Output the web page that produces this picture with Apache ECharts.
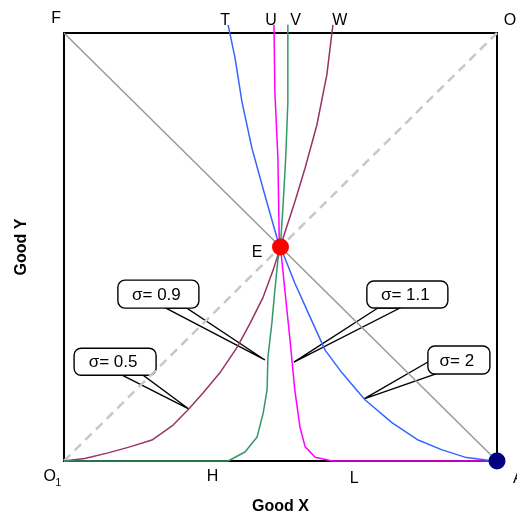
<!DOCTYPE html>
<html>
<head>
<meta charset="utf-8">
<script src="https://cdn.jsdelivr.net/npm/echarts@6/dist/echarts.min.js"></script>
<style>
  html, body { margin: 0; padding: 0; background: #fff; }
  #chart { width: 517px; height: 515px; }
</style>
</head>
<body>
<div id="chart"></div>
<script>
// box runs 0..100 on both goods, E sits in the middle
const pointE = [50, 50];
const pointA = [100, 0];
const diagonalFA = [[0, 100], [100, 0]];
const diagonalO1O = [[0, 0], [100, 100]];

// lower branches (towards O1 / A)
const sigma05Low = [[0, 0], [4.8, 0.6], [10.2, 1.9], [15.2, 3.3], [20.3, 4.9], [25.2, 8.4], [28.6, 11.9], [32.1, 15.9], [36.0, 20.6], [40.0, 26.6], [43.0, 32.2], [46.0, 38.3], [48.3, 44.6], [50, 50]];
const sigma09Low = [[0, 0], [37.9, 0], [41.8, 2.1], [44.6, 5.6], [46.0, 11.2], [46.9, 16.6], [47.1, 24.3], [48.0, 32.2], [48.7, 40.0], [49.4, 47.0], [50, 50]];
const sigma11Low = [[50, 50], [51.0, 40.0], [52.2, 28.3], [53.3, 16.6], [54.5, 7.9], [55.7, 3.3], [58.0, 0.9], [62.0, 0], [100, 0]];
const sigma2Low = [[50, 50], [53.3, 41.6], [56.4, 34.6], [60.3, 25.9], [64.2, 20.6], [69.5, 14.3], [75.8, 8.9], [81.8, 4.9], [87.3, 2.6], [92.6, 0.9], [97.9, 0.2], [100, 0]];

// upper branches (T, U, V, W)
const sigma2Up = [[50, 50], [49.2, 52.1], [46.4, 62.1], [43.4, 73.1], [41.1, 83.9], [39.5, 94.2], [37.9, 101.9]];
const sigma11Up = [[50, 50], [49.7, 52.1], [49.4, 70.8], [48.7, 86.2], [48.5, 101.9]];
const sigma09Up = [[50, 50], [50.1, 52.1], [50.6, 59.8], [51.2, 70.8], [51.7, 83.9], [51.7, 101.9]];
const sigma05Up = [[50, 50], [50.6, 52.1], [53.3, 60.5], [55.7, 68.5], [58.4, 78.5], [60.7, 90.2], [62.1, 101.9]];

const pointNames = ['F', 'T', 'U', 'V', 'W', 'O', 'O', '1', 'H', 'L', 'A', 'E'];
const pointSpots = [[-1.8, 103.3], [37.2, 102.9], [47.8, 102.9], [53.5, 102.9], [63.7, 102.9], [103.0, 103.0], [-3.3, -3.7], [-1.3, -5.3], [34.3, -3.7], [67.0, -4.0], [104.9, -4.0], [44.6, 48.6]];

const calloutTexts = ['σ= 0.5', 'σ= 0.9', 'σ= 1.1', 'σ= 2'];
const calloutTips = [[28.9, 12.1], [46.4, 23.6], [53.1, 23.1], [69.3, 14.5]];
const calloutBoxes = [[11.8, 23.2], [21.8, 39.0], [79.3, 38.9], [91.2, 23.6]];

const FONT = '"Liberation Sans", Arial, sans-serif';
const BLUE = '#3366ff', MAGENTA = '#ff00ff', GREEN = '#339966', MAROON = '#993366';

// box size + wedge base offsets (px, from box centre)
const calloutShape = [
  { w: 82, h: 27, base: [[7, 13.5], [28, 13.5]] },
  { w: 81, h: 28, base: [[7.5, 14], [28.5, 14]] },
  { w: 81, h: 27, base: [[-29.5, 13.5], [-7.5, 13.5]] },
  { w: 62, h: 28, base: [[-31, 2], [-23, 14]] }
];

function curve(data, color) {
  return {
    type: 'line', data: data, clip: false, symbol: 'none', z: 5,
    lineStyle: { color: color, width: 1.5 }
  };
}

let myChart = echarts.init(document.getElementById('chart'));
myChart.setOption({
  animation: false,
  grid: { left: 64, right: 20, top: 33, bottom: 54, outerBoundsMode: 'none', containLabel: false, show: true, borderColor: '#000', borderWidth: 2 },
  xAxis: {
    type: 'value', min: 0, max: 100,
    axisLine: { show: false }, axisTick: { show: false }, axisLabel: { show: false }, splitLine: { show: false },
    name: 'Good X', nameLocation: 'middle', nameGap: 38,
    nameTextStyle: { fontFamily: FONT, fontSize: 16, fontWeight: 'bold', color: '#000' }
  },
  yAxis: {
    type: 'value', min: 0, max: 100,
    axisLine: { show: false }, axisTick: { show: false }, axisLabel: { show: false }, splitLine: { show: false },
    name: 'Good Y', nameLocation: 'middle', nameGap: 34,
    nameTextStyle: { fontFamily: FONT, fontSize: 16, fontWeight: 'bold', color: '#000' }
  },
  series: [
    {
      type: 'custom', z: 2, clip: false,
      data: calloutTips.map((t, i) => [t[0], t[1], calloutBoxes[i][0], calloutBoxes[i][1]]),
      renderItem: function (params, api) {
        const i = params.dataIndex;
        const s = calloutShape[i];
        const tip = api.coord([api.value(0), api.value(1)]);
        const c = api.coord([api.value(2), api.value(3)]);
        return {
          type: 'group',
          children: [
            {
              type: 'polygon',
              shape: { points: [[c[0] + s.base[0][0], c[1] + s.base[0][1]], tip, [c[0] + s.base[1][0], c[1] + s.base[1][1]]] },
              style: { fill: '#fff', stroke: '#000', lineWidth: 1.4 }
            },
            {
              type: 'rect',
              shape: { x: c[0] - s.w / 2, y: c[1] - s.h / 2, width: s.w, height: s.h, r: 7 },
              style: { fill: '#fff', stroke: '#000', lineWidth: 1.4 }
            },
            {
              type: 'text',
              style: { text: calloutTexts[i], x: c[0] - 2, y: c[1] + 1, align: 'center', verticalAlign: 'middle', fontFamily: FONT, fontSize: 17, fill: '#000' }
            }
          ]
        };
      }
    },
    {
      type: 'line', data: diagonalFA, symbol: 'none', z: 3,
      lineStyle: { color: '#999', width: 1.5 }
    },
    {
      type: 'line', data: diagonalO1O, symbol: 'none', z: 3,
      lineStyle: { color: '#c8c8c8', width: 2.5, type: [9, 6] }
    },
    curve(sigma05Low, MAROON),
    curve(sigma09Low, GREEN),
    curve(sigma11Low, MAGENTA),
    curve(sigma2Low, BLUE),
    curve(sigma2Up, BLUE),
    curve(sigma11Up, MAGENTA),
    curve(sigma09Up, GREEN),
    curve(sigma05Up, MAROON),
    {
      type: 'scatter', z: 8, symbolSize: 17,
      data: [
        { value: pointE, itemStyle: { color: '#ff0000', opacity: 1 } },
        { value: pointA, itemStyle: { color: '#000080', opacity: 1 } }
      ]
    },
    {
      type: 'scatter', z: 9, symbolSize: 0, clip: false, silent: true,
      itemStyle: { opacity: 1 },
      data: pointNames.map((n, i) => ({
        name: n, value: pointSpots[i],
        label: { fontSize: n === '1' ? 10 : 16 }
      })),
      label: {
        show: true, position: 'inside', formatter: '{b}',
        fontFamily: FONT, fontSize: 16, color: '#000'
      }
    }
  ]
});
</script>
</body>
</html>
